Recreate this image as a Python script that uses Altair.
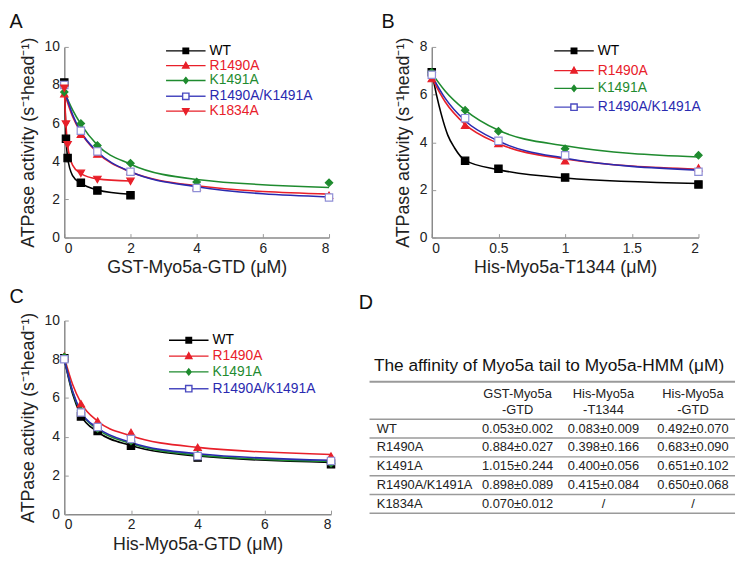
import altair as alt
import pandas as pd

FONT = "Liberation Sans"
YTITLE = "ATPase activity (s\u207b\u00b9head\u207b\u00b9)"

# ---------------- data ----------------
line_color = {"WT": "#000000", "R1490A": "#e8202a", "K1491A": "#1f8b2f",
              "R1490A/K1491A": "#2a2ab0", "K1834A": "#e8202a"}
mark_fill = {"WT": "#000000", "R1490A": "#e8202a", "K1491A": "#1f8b2f",
             "R1490A/K1491A": "#ffffff", "K1834A": "#e8202a"}
mark_stroke = {"WT": "#000000", "R1490A": "#e8202a", "K1491A": "#1f8b2f",
               "R1490A/K1491A": "#8f8fd6", "K1834A": "#e8202a"}
mark_shape = {"WT": "square", "R1490A": "triangle-up", "K1491A": "diamond",
              "R1490A/K1491A": "square", "K1834A": "triangle-down"}

# Panel A: GST-Myo5a-GTD
A_pts = {
    "WT": ([0, 0.05, 0.1, 0.5, 1, 2], [8.13, 5.18, 4.17, 2.88, 2.47, 2.22]),
    "R1490A": ([0, 0.5, 1, 2, 4, 8], [7.55, 5.42, 4.38, 3.48, 2.67, 2.22]),
    "K1491A": ([0, 0.5, 1, 2, 4, 8], [7.63, 5.98, 4.83, 3.9, 2.92, 2.88]),
    "R1490A/K1491A": ([0, 0.5, 1, 2, 4, 8], [8.0, 5.6, 4.52, 3.45, 2.6, 2.1]),
    "K1834A": ([0, 0.05, 0.1, 0.5, 1, 2], [7.83, 5.95, 4.87, 3.37, 3.05, 2.95]),
}
A_curve = {
    "WT": ([0, 0.05, 0.1, 0.25, 0.5, 1, 2], [8.13, 5.3, 4.2, 3.25, 2.85, 2.5, 2.27]),
    "R1490A": ([0, 0.25, 0.5, 1, 2, 4, 8], [7.6, 6.35, 5.5, 4.45, 3.45, 2.72, 2.28]),
    "K1491A": ([0, 0.25, 0.5, 1, 2, 4, 8], [7.65, 6.7, 5.95, 4.85, 3.85, 3.05, 2.63]),
    "R1490A/K1491A": ([0, 0.25, 0.5, 1, 2, 4, 8], [7.75, 6.45, 5.55, 4.5, 3.45, 2.67, 2.13]),
    "K1834A": ([0, 0.05, 0.1, 0.25, 0.5, 1, 2], [7.83, 5.95, 4.85, 3.8, 3.35, 3.08, 2.97]),
}

# Panel B: His-Myo5a-T1344
B_pts = {
    "WT": ([0, 0.25, 0.5, 1, 2], [6.94, 3.22, 2.89, 2.52, 2.23]),
    "R1490A": ([0, 0.25, 0.5, 1, 2], [6.67, 4.71, 3.95, 3.22, 2.92]),
    "K1491A": ([0, 0.25, 0.5, 1, 2], [6.94, 5.34, 4.46, 3.73, 3.45]),
    "R1490A/K1491A": ([0, 0.25, 0.5, 1, 2], [6.83, 5.01, 4.06, 3.45, 2.76]),
}
B_curve = {
    "WT": ([0, 0.035, 0.07, 0.12, 0.17, 0.25, 0.5, 1, 2],
           [6.94, 6.0, 5.2, 4.3, 3.77, 3.24, 2.85, 2.5, 2.27]),
    "R1490A": ([0, 0.1, 0.25, 0.5, 1, 2], [6.7, 5.7, 4.75, 3.95, 3.3, 2.87]),
    "K1491A": ([0, 0.1, 0.25, 0.5, 1, 2], [6.9, 6.15, 5.35, 4.5, 3.85, 3.38]),
    "R1490A/K1491A": ([0, 0.1, 0.25, 0.5, 1, 2], [6.8, 5.85, 4.9, 4.05, 3.33, 2.83]),
}

# Panel C: His-Myo5a-GTD
C_pts = {
    "WT": ([0, 0.5, 1, 2, 4, 8], [8.05, 5.05, 4.3, 3.53, 2.92, 2.58]),
    "R1490A": ([0, 0.5, 1, 2, 4, 8], [8.17, 5.7, 4.8, 4.22, 3.45, 3.0]),
    "K1491A": ([0, 0.5, 1, 2, 4, 8], [8.12, 5.33, 4.42, 3.78, 3.05, 2.63]),
    "R1490A/K1491A": ([0, 0.5, 1, 2, 4, 8], [8.0, 5.25, 4.5, 3.88, 3.0, 2.75]),
}
C_curve = {
    "WT": ([0, 0.25, 0.5, 1, 2, 4, 8], [8.0, 6.2, 5.1, 4.25, 3.55, 3.0, 2.67]),
    "R1490A": ([0, 0.25, 0.5, 1, 2, 4, 8], [8.1, 6.7, 5.75, 4.8, 4.05, 3.45, 3.08]),
    "K1491A": ([0, 0.25, 0.5, 1, 2, 4, 8], [8.05, 6.3, 5.25, 4.38, 3.65, 3.05, 2.72]),
    "R1490A/K1491A": ([0, 0.25, 0.5, 1, 2, 4, 8], [8.0, 6.35, 5.3, 4.45, 3.7, 3.12, 2.78]),
}

# Panel D: table
table_title = "The affinity of Myo5a tail to Myo5a-HMM (\u03bcM)"
header_top = ["GST-Myo5a", "His-Myo5a", "His-Myo5a"]
header_bottom = ["-GTD", "-T1344", "-GTD"]
row_labels = ["WT", "R1490A", "K1491A", "R1490A/K1491A", "K1834A"]
col_gst_gtd = ["0.053\u00b10.002", "0.884\u00b10.027", "1.015\u00b10.244", "0.898\u00b10.089", "0.070\u00b10.012"]
col_his_t1344 = ["0.083\u00b10.009", "0.398\u00b10.166", "0.400\u00b10.056", "0.415\u00b10.084", "/"]
col_his_gtd = ["0.492\u00b10.070", "0.683\u00b10.090", "0.651\u00b10.102", "0.650\u00b10.068", "/"]

# legend symbol paths: a line with a small marker in the middle
legend_path = {
    "WT": "M-1,0H1M-0.14,-0.14H0.14V0.14H-0.14Z",
    "R1490A": "M-1,0H1M0,-0.17L0.16,0.12H-0.16Z",
    "K1491A": "M-1,0H1M0,-0.15L0.12,0L0,0.15L-0.12,0Z",
    "R1490A/K1491A": "M-1,0H-0.16M0.16,0H1M-0.16,-0.16H0.16V0.16H-0.16Z",
    "K1834A": "M-1,0H1M0,0.17L0.16,-0.12H-0.16Z",
}
legend_stroke = {"WT": "#000000", "R1490A": "#e8202a", "K1491A": "#1f8b2f",
                 "R1490A/K1491A": "#4a4ac0", "K1834A": "#e8202a"}


def long_df(d):
    rows = []
    for s, (xs, ys) in d.items():
        for x, y in zip(xs, ys):
            rows.append({"series": s, "x": x, "y": y})
    return pd.DataFrame(rows)


EMPTY = pd.DataFrame({"series": pd.Series([], dtype=str)})


def panel(label, pts, crv, xdom, xvals, ydom, yvals, xtitle, w, h,
          lx, lys, toffset, tdx, xtitlepad):
    series = list(pts.keys())
    cscale = alt.Scale(domain=series, range=[line_color[s] for s in series])
    xs = alt.Scale(domain=xdom, nice=False, zero=False)
    ys = alt.Scale(domain=ydom, nice=False, zero=False)

    lines = alt.Chart(long_df(crv)).mark_line(interpolate="monotone", strokeWidth=1.6).encode(
        x=alt.X("x:Q", scale=xs, axis=alt.Axis(values=xvals, format="~r", title=xtitle,
                                                ticks=False, tickSize=0, labelPadding=4,
                                                titlePadding=xtitlepad, grid=False)),
        y=alt.Y("y:Q", scale=ys, axis=alt.Axis(values=yvals, format="~r", title=YTITLE,
                                                ticks=False, tickSize=0, labelPadding=5,
                                                titlePadding=7, grid=False)),
        color=alt.Color("series:N", scale=cscale, legend=None),
    )
    layers = [lines]
    for i, s in enumerate(series):
        if i == 0:
            ax_x = alt.Axis(orient="top", offset=-h, values=xvals, labels=False, domain=False,
                            ticks=True, tickSize=4, title=None, grid=False, tickColor="#999999")
            ax_y = alt.Axis(orient="right", offset=-w, values=yvals, labels=False, domain=False,
                            ticks=True, tickSize=4, title=None, grid=False, tickColor="#999999")
        else:
            ax_x = None
            ax_y = None
        layers.append(
            alt.Chart(long_df({s: pts[s]})).mark_point(
                filled=True, shape=mark_shape[s], fill=mark_fill[s], stroke=mark_stroke[s],
                size=55, strokeWidth=1.2, opacity=1).encode(
                x=alt.X("x:Q", scale=xs, axis=ax_x),
                y=alt.Y("y:Q", scale=ys, axis=ax_y),
            )
        )
    # legend entries (line + marker), one small legend per series
    for i, s in enumerate(series):
        leg = alt.Legend(
            title=None, orient="none", legendX=lx, legendY=lys[i], padding=0,
            labelFontSize=14, labelOffset=3, labelColor=line_color[s], labelFont=FONT,
            symbolType=legend_path[s], symbolSize=1600, symbolStrokeWidth=1.4, symbolOpacity=1,
        )
        layers.append(
            alt.Chart(EMPTY).mark_point(
                filled=True, shape=legend_path[s], fill=mark_fill[s], stroke=legend_stroke[s],
                size=1600, strokeWidth=1.4).encode(
                opacity=alt.Opacity("series:N", scale=alt.Scale(domain=[s], range=[1]), legend=leg),
            )
        )
    return alt.layer(*layers).resolve_scale(
        x="independent", y="independent", opacity="independent"
    ).properties(
        width=w, height=h,
        title=alt.TitleParams(label, anchor="start", fontSize=20, fontWeight="normal",
                              font=FONT, offset=toffset, dx=tdx, color="#111111"),
    )


pA = panel("A", A_pts, A_curve, [0, 8], [0, 2, 4, 6, 8], [0, 10], [0, 2, 4, 6, 8, 10],
           "GST-Myo5a-GTD (\u03bcM)", 268, 193, 102, [-17, -2, 13, 29, 44], -2, -10, 3)
pB = panel("B", B_pts, B_curve, [0, 2], [0, 0.5, 1, 1.5, 2], [0, 8], [0, 2, 4, 6, 8],
           "His-Myo5a-T1344 (\u03bcM)", 270, 193, 123, [-17, 3, 21, 40], -2, -13, 3)
pC = panel("C", C_pts, C_curve, [0, 8], [0, 2, 4, 6, 8], [0, 10], [0, 2, 4, 6, 8, 10],
           "His-Myo5a-GTD (\u03bcM)", 270, 196, 105, [-1, 15, 31, 48], 5, -10, 4)

# ---------------- table (panel D) ----------------
col_x = [0.405, 0.64, 0.885]
cells = []
for i, lab in enumerate(row_labels):
    cells.append({"x": 0.02, "y": i + 0.5, "t": lab, "a": "left"})
    for cx, col in zip(col_x, [col_gst_gtd, col_his_t1344, col_his_gtd]):
        cells.append({"x": cx, "y": i + 0.5, "t": col[i], "a": "center"})
for cx, ht, hb in zip(col_x, header_top, header_bottom):
    cells.append({"x": cx, "y": -1.37, "t": ht, "a": "center"})
    cells.append({"x": cx, "y": -0.47, "t": hb, "a": "center"})
cells_df = pd.DataFrame(cells)

tx = alt.Scale(domain=[0, 1], nice=False, zero=False)
ty = alt.Scale(domain=[-5.26, 5.05], nice=False, zero=False, reverse=True)

rules_thin = alt.Chart(pd.DataFrame({"y": [0, 1, 2, 3, 4, 5]})).mark_rule(
    color="#9a9a9a", strokeWidth=1.5).encode(
    x=alt.datum(0, scale=tx, axis=None), x2=alt.datum(1),
    y=alt.Y("y:Q", scale=ty, axis=None))
rules_top = alt.Chart(pd.DataFrame({"y": [-2]})).mark_rule(
    color="#9a9a9a", strokeWidth=2).encode(
    x=alt.datum(0, scale=tx, axis=None), x2=alt.datum(1),
    y=alt.Y("y:Q", scale=ty, axis=None))
txt_left = alt.Chart(cells_df[cells_df.a == "left"]).mark_text(
    align="left", baseline="middle", fontSize=13, font=FONT, color="#222222").encode(
    x=alt.X("x:Q", scale=tx, axis=None), y=alt.Y("y:Q", scale=ty, axis=None), text="t:N")
txt_center = alt.Chart(cells_df[cells_df.a == "center"]).mark_text(
    align="center", baseline="middle", fontSize=13, font=FONT, color="#222222").encode(
    x=alt.X("x:Q", scale=tx, axis=None), y=alt.Y("y:Q", scale=ty, axis=None), text="t:N")
ttl = alt.Chart(pd.DataFrame({"x": [0.012], "y": [-2.84], "t": [table_title]})).mark_text(
    align="left", baseline="middle", fontSize=17.5, font=FONT, color="#111111").encode(
    x=alt.X("x:Q", scale=tx, axis=None), y=alt.Y("y:Q", scale=ty, axis=None), text="t:N")

pD = alt.layer(rules_thin, rules_top, txt_left, txt_center, ttl).properties(
    width=370, height=196,
    title=alt.TitleParams("D", anchor="start", fontSize=20, fontWeight="normal",
                          font=FONT, offset=8, dx=-10, color="#111111"),
)

top = alt.hconcat(pA, pB, spacing=45)
bottom = alt.hconcat(pC, pD, spacing=20)
chart = alt.vconcat(top, bottom, spacing=10).properties(padding=0).configure_view(
    stroke="transparent"
).configure_axis(
    labelFont=FONT, titleFont=FONT, labelFontSize=14, titleFontSize=18,
    titleFontWeight="normal", labelColor="#222222", titleColor="#222222",
    domainColor="#8a8a8a", domainWidth=1.5,
).configure_legend(labelFont=FONT)

chart.save("out.html", embed_options={"renderer": "svg", "actions": False})
